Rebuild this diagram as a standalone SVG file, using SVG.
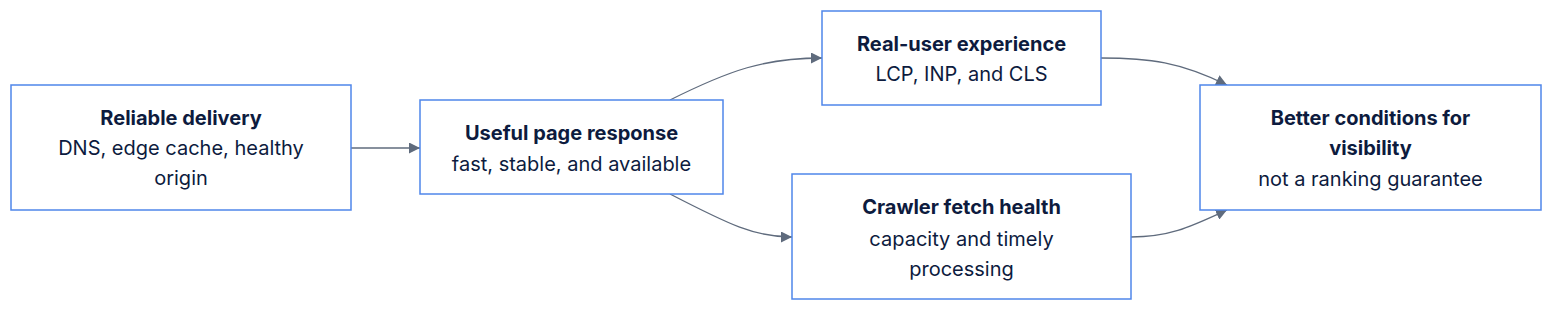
<svg xmlns="http://www.w3.org/2000/svg" width="1568" height="316" viewBox="0 0 1568 316">
<defs>
<style>
.box{fill:#ffffff;stroke:#4f86ea;stroke-width:1.5}
.t{font-family:Inter,"Noto Sans",sans-serif;font-size:20px;font-weight:700;fill:#0d1b3e;text-anchor:middle}
.s{font-family:Inter,"Noto Sans",sans-serif;font-size:20px;font-weight:400;fill:#0d1b3e;text-anchor:middle}
.e{fill:none;stroke:#5f6b7d;stroke-width:1.3}
</style>
<marker id="arr" viewBox="0 0 10 10" refX="10" refY="5" markerWidth="11" markerHeight="11" markerUnits="userSpaceOnUse" orient="auto">
<path d="M0,0 L10,5 L0,10 z" fill="#5f6b7d"/>
</marker>
</defs>
<rect width="1568" height="316" fill="#ffffff"/>
<g id="edges">
<path class="e" d="M351,148 L420,148" marker-end="url(#arr)"/>
<path class="e" d="M670,100 C730,70 765,58 822,58" marker-end="url(#arr)"/>
<path class="e" d="M670,194 C730,225 755,237 792,237" marker-end="url(#arr)"/>
<path class="e" d="M1101,58 C1150,58 1180,62 1227,85" marker-end="url(#arr)"/>
<path class="e" d="M1131,237 C1170,237 1190,227 1227,210" marker-end="url(#arr)"/>
</g>
<g id="node-delivery">
<rect class="box" x="11" y="85" width="340" height="125"/>
<text class="t" x="181" y="125">Reliable delivery</text>
<text class="s" x="181" y="155">DNS, edge cache, healthy</text>
<text class="s" x="181" y="185">origin</text>
</g>
<g id="node-response">
<rect class="box" x="420" y="100" width="303" height="94"/>
<text class="t" x="571.5" y="140">Useful page response</text>
<text class="s" x="571.5" y="171">fast, stable, and available</text>
</g>
<g id="node-rum">
<rect class="box" x="822" y="11" width="279" height="94"/>
<text class="t" x="961.5" y="51">Real-user experience</text>
<text class="s" x="961.5" y="81">LCP, INP, and CLS</text>
</g>
<g id="node-crawler">
<rect class="box" x="792" y="174" width="339" height="125"/>
<text class="t" x="961.5" y="214">Crawler fetch health</text>
<text class="s" x="961.5" y="246">capacity and timely</text>
<text class="s" x="961.5" y="276">processing</text>
</g>
<g id="node-visibility">
<rect class="box" x="1200" y="85" width="341" height="125"/>
<text class="t" x="1370.5" y="125">Better conditions for</text>
<text class="t" x="1370.5" y="155">visibility</text>
<text class="s" x="1370.5" y="186">not a ranking guarantee</text>
</g>
</svg>
